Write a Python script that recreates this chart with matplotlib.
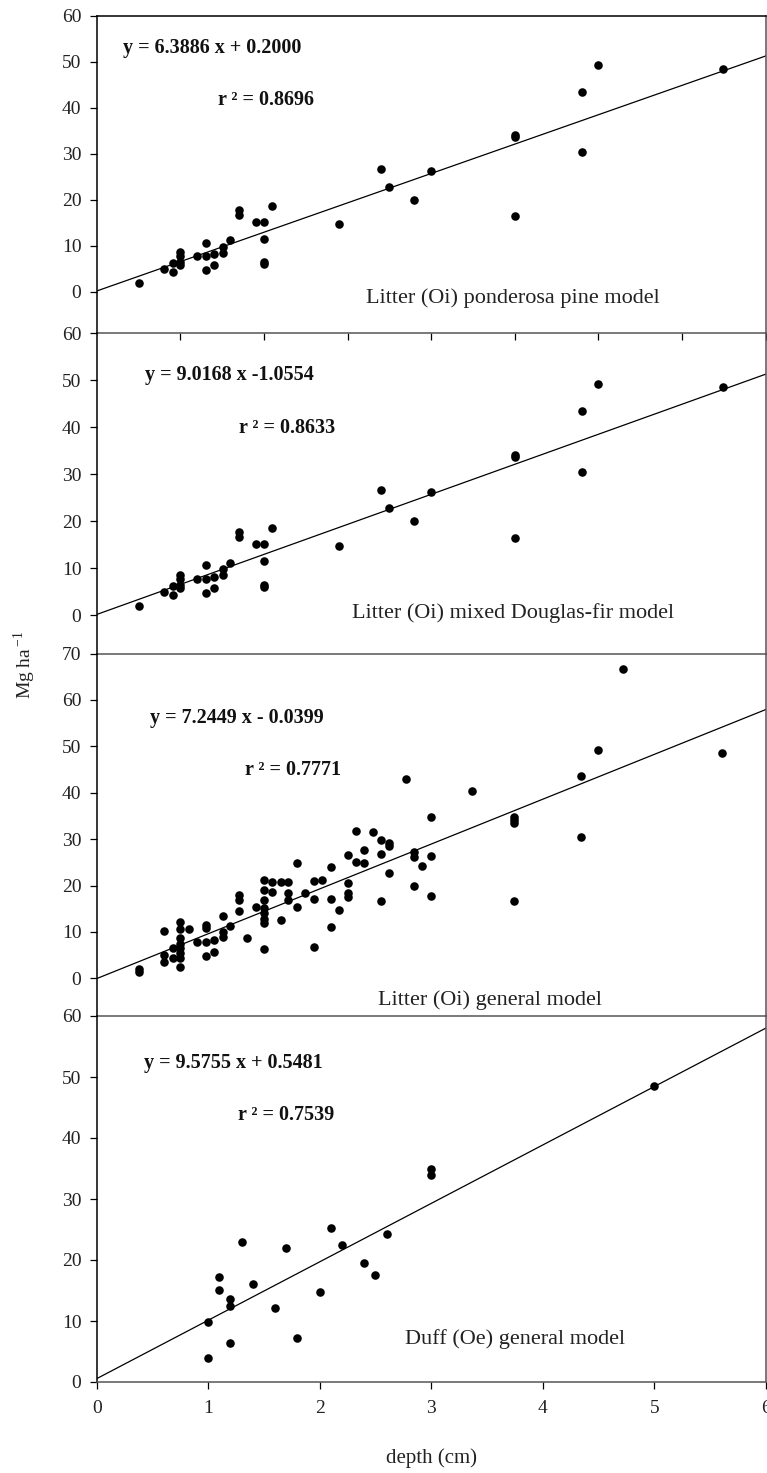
import numpy as np
import matplotlib
matplotlib.use("Agg")
import matplotlib.pyplot as plt

plt.rcParams['font.family'] = ['Liberation Serif', 'DejaVu Serif']
plt.rcParams['mathtext.fontset'] = 'custom'
plt.rcParams['mathtext.rm'] = 'Liberation Serif'

# ---------------- data ----------------
pp_x = [0.38, 0.60, 0.68, 0.68, 0.75, 0.75, 0.75, 0.75, 0.90, 0.98, 0.98, 0.98,
        1.05, 1.05, 1.13, 1.13, 1.20, 1.28, 1.28, 1.43, 1.50, 1.50, 1.50, 1.50,
        1.575, 2.17, 2.55, 2.62, 2.85, 3.00, 3.75, 3.75, 3.75, 4.35, 4.35, 4.50, 5.62]
pp_y = [2.0, 4.9, 6.3, 4.4, 8.7, 7.8, 6.5, 5.8, 7.8, 10.7, 7.8, 4.8,
        8.2, 5.9, 9.8, 8.5, 11.2, 17.8, 16.7, 15.2, 15.2, 11.6, 6.5, 6.0,
        18.6, 14.7, 26.7, 22.8, 20.0, 26.3, 34.1, 33.6, 16.5, 43.5, 30.5, 49.3, 48.5]

df_x = list(pp_x)
df_y = list(pp_y)

gen_x = [0.38, 0.38, 0.60, 0.60, 0.60, 0.68, 0.68,
         0.75, 0.75, 0.75, 0.75, 0.75, 0.75, 0.75, 0.75,
         0.83, 0.90, 0.98, 0.98, 0.98, 0.98, 1.05, 1.05,
         1.13, 1.13, 1.13, 1.20, 1.28, 1.28, 1.28, 1.35, 1.43,
         1.50, 1.50, 1.50, 1.50, 1.50, 1.50, 1.50, 1.50,
         1.575, 1.575, 1.65, 1.65, 1.72, 1.72, 1.72, 1.80, 1.80,
         1.87, 1.95, 1.95, 1.95, 2.02, 2.10, 2.10, 2.10, 2.17, 2.25, 2.25, 2.25, 2.25,
         2.325, 2.325, 2.40, 2.40, 2.475, 2.55, 2.55, 2.55,
         2.62, 2.62, 2.62, 2.775, 2.85, 2.85, 2.85, 2.92,
         3.00, 3.00, 3.00, 3.37, 3.745, 3.745, 3.745, 3.745,
         4.34, 4.34, 4.50, 4.72, 5.61]
gen_y = [2.0, 1.4, 10.3, 5.0, 3.6, 6.5, 4.5,
         12.2, 10.6, 8.6, 7.5, 6.5, 5.4, 4.3, 2.5,
         10.6, 7.9, 11.5, 10.8, 7.9, 4.8, 8.3, 5.7,
         13.4, 10.0, 8.9, 11.3, 18.0, 16.9, 14.5, 8.6, 15.3,
         21.3, 19.0, 16.9, 15.1, 14.0, 12.9, 11.9, 6.3,
         20.8, 18.7, 20.8, 12.6, 20.8, 18.5, 16.9, 24.8, 15.3,
         18.4, 21.0, 17.0, 6.7, 21.2, 24.1, 17.2, 11.0, 14.7, 26.6, 20.5, 18.3, 17.6,
         31.8, 25.0, 27.6, 24.8, 31.6, 29.8, 26.7, 16.7,
         29.1, 28.6, 22.8, 42.9, 27.3, 26.1, 20.0, 24.3,
         34.8, 26.4, 17.8, 40.4, 34.8, 34.1, 33.4, 16.6,
         43.6, 30.5, 49.3, 66.7, 48.5]

duff_x = [1.0, 1.0, 1.1, 1.1, 1.2, 1.2, 1.2, 1.3, 1.4, 1.6, 1.7, 1.8,
          2.0, 2.1, 2.2, 2.4, 2.5, 2.6, 3.0, 3.0, 5.0]
duff_y = [9.9, 4.0, 17.2, 15.1, 13.6, 12.5, 6.4, 23.0, 16.1, 12.1, 21.9, 7.2,
          14.7, 25.2, 22.5, 19.5, 17.5, 24.3, 35.0, 34.0, 48.5]

# trend lines as drawn on the chart (slope, intercept in plotted units)
line_slope = [8.518, 8.518, 9.660, 9.5755]
line_intercept = [0.20, 0.20, -0.04, 0.5481]

equations = ["y = 6.3886 x + 0.2000", "y = 9.0168 x -1.0554",
             "y = 7.2449 x - 0.0399", "y = 9.5755 x + 0.5481"]
r2_texts = ["r \u00b2 = 0.8696", "r \u00b2 = 0.8633", "r \u00b2 = 0.7771", "r \u00b2 = 0.7539"]
model_labels = ["Litter (Oi) ponderosa pine model", "Litter (Oi) mixed Douglas-fir model",
                "Litter (Oi) general model", "Duff (Oe) general model"]
y_max = [60, 60, 70, 60]
y_min = [-9.0, -8.1, -8.1, 0]

xs = [pp_x, df_x, gen_x, duff_x]
ys = [pp_y, df_y, gen_y, duff_y]

# ---------------- layout ----------------
W, H = 767, 1473
fig = plt.figure(figsize=(W / 100, H / 100), dpi=100)
left, right = 96.7, 765.7
bounds = [(16, 333.3), (333.3, 653.5), (653.5, 1016), (1016, 1382)]

eq_pos = [(0.236, 53.0), (0.433, 51.1), (0.478, 56.1), (0.424, 52.3)]
r2_pos = [(1.088, 41.7), (1.276, 39.9), (1.33, 44.9), (1.27, 43.8)]
lab_pos = [(3.73, -1.4), (3.73, 0.5), (3.53, -4.7), (3.75, 7.0)]

spine_gray = '#555555'
axes = []
for i, (top, bot) in enumerate(bounds):
    ax = fig.add_axes([left / W, 1 - bot / H, (right - left) / W, (bot - top) / H])
    axes.append(ax)
    ax.set_xlim(0, 6)
    ax.set_ylim(y_min[i], y_max[i])
    ax.scatter(xs[i], ys[i], s=38, color='black', zorder=3, linewidths=0)
    lx = np.array([0.0, 6.0])
    ax.plot(lx, line_slope[i] * lx + line_intercept[i], color='black', lw=0.9, zorder=2)
    ax.set_yticks(np.arange(0, y_max[i] + 1, 10))
    ax.tick_params(axis='y', direction='out', length=5, width=0.9, labelsize=14, pad=6,
                   colors='black')
    for lbl in ax.get_yticklabels():
        lbl.set_color('#222222')
    ax.spines['left'].set_color('black')
    ax.spines['right'].set_color(spine_gray)
    ax.spines['bottom'].set_color(spine_gray)
    ax.spines['top'].set_color('black' if i == 0 else spine_gray)
    for s in ax.spines.values():
        s.set_linewidth(1.1)
    if i > 0:
        ax.spines['top'].set_visible(False)
    ax.text(eq_pos[i][0], eq_pos[i][1], equations[i], fontsize=14.5, fontweight='bold',
            ha='left', va='center', color='#111111')
    ax.text(r2_pos[i][0], r2_pos[i][1], r2_texts[i], fontsize=14.5, fontweight='bold',
            ha='left', va='center', color='#111111')
    ax.text(lab_pos[i][0], lab_pos[i][1], model_labels[i], fontsize=16,
            ha='center', va='center', color='#222222')
    ax.set_facecolor('none')

# x ticks
axes[0].set_xticks(np.arange(0.75, 6.01, 0.75))
axes[0].tick_params(axis='x', direction='out', length=5, width=0.9, labelbottom=False)
for ax in axes[1:3]:
    ax.set_xticks([])
axes[3].set_xticks(np.arange(0, 7, 1))
axes[3].tick_params(axis='x', direction='out', length=5, width=0.9, labelsize=14, pad=8,
                    colors='black')
for lbl in axes[3].get_xticklabels():
    lbl.set_color('#222222')

fig.text(25 / W, 1 - 665 / H, 'Mg ha$^{\\,\\mathregular{-1}}$', rotation=90, ha='center', va='center',
         fontsize=14, color='#222222')
fig.text((left + right) / 2 / W, 1 - 1458 / H, 'depth (cm)', ha='center', va='center',
         fontsize=15, color='#222222')

fig.savefig('out.png', dpi=100)
